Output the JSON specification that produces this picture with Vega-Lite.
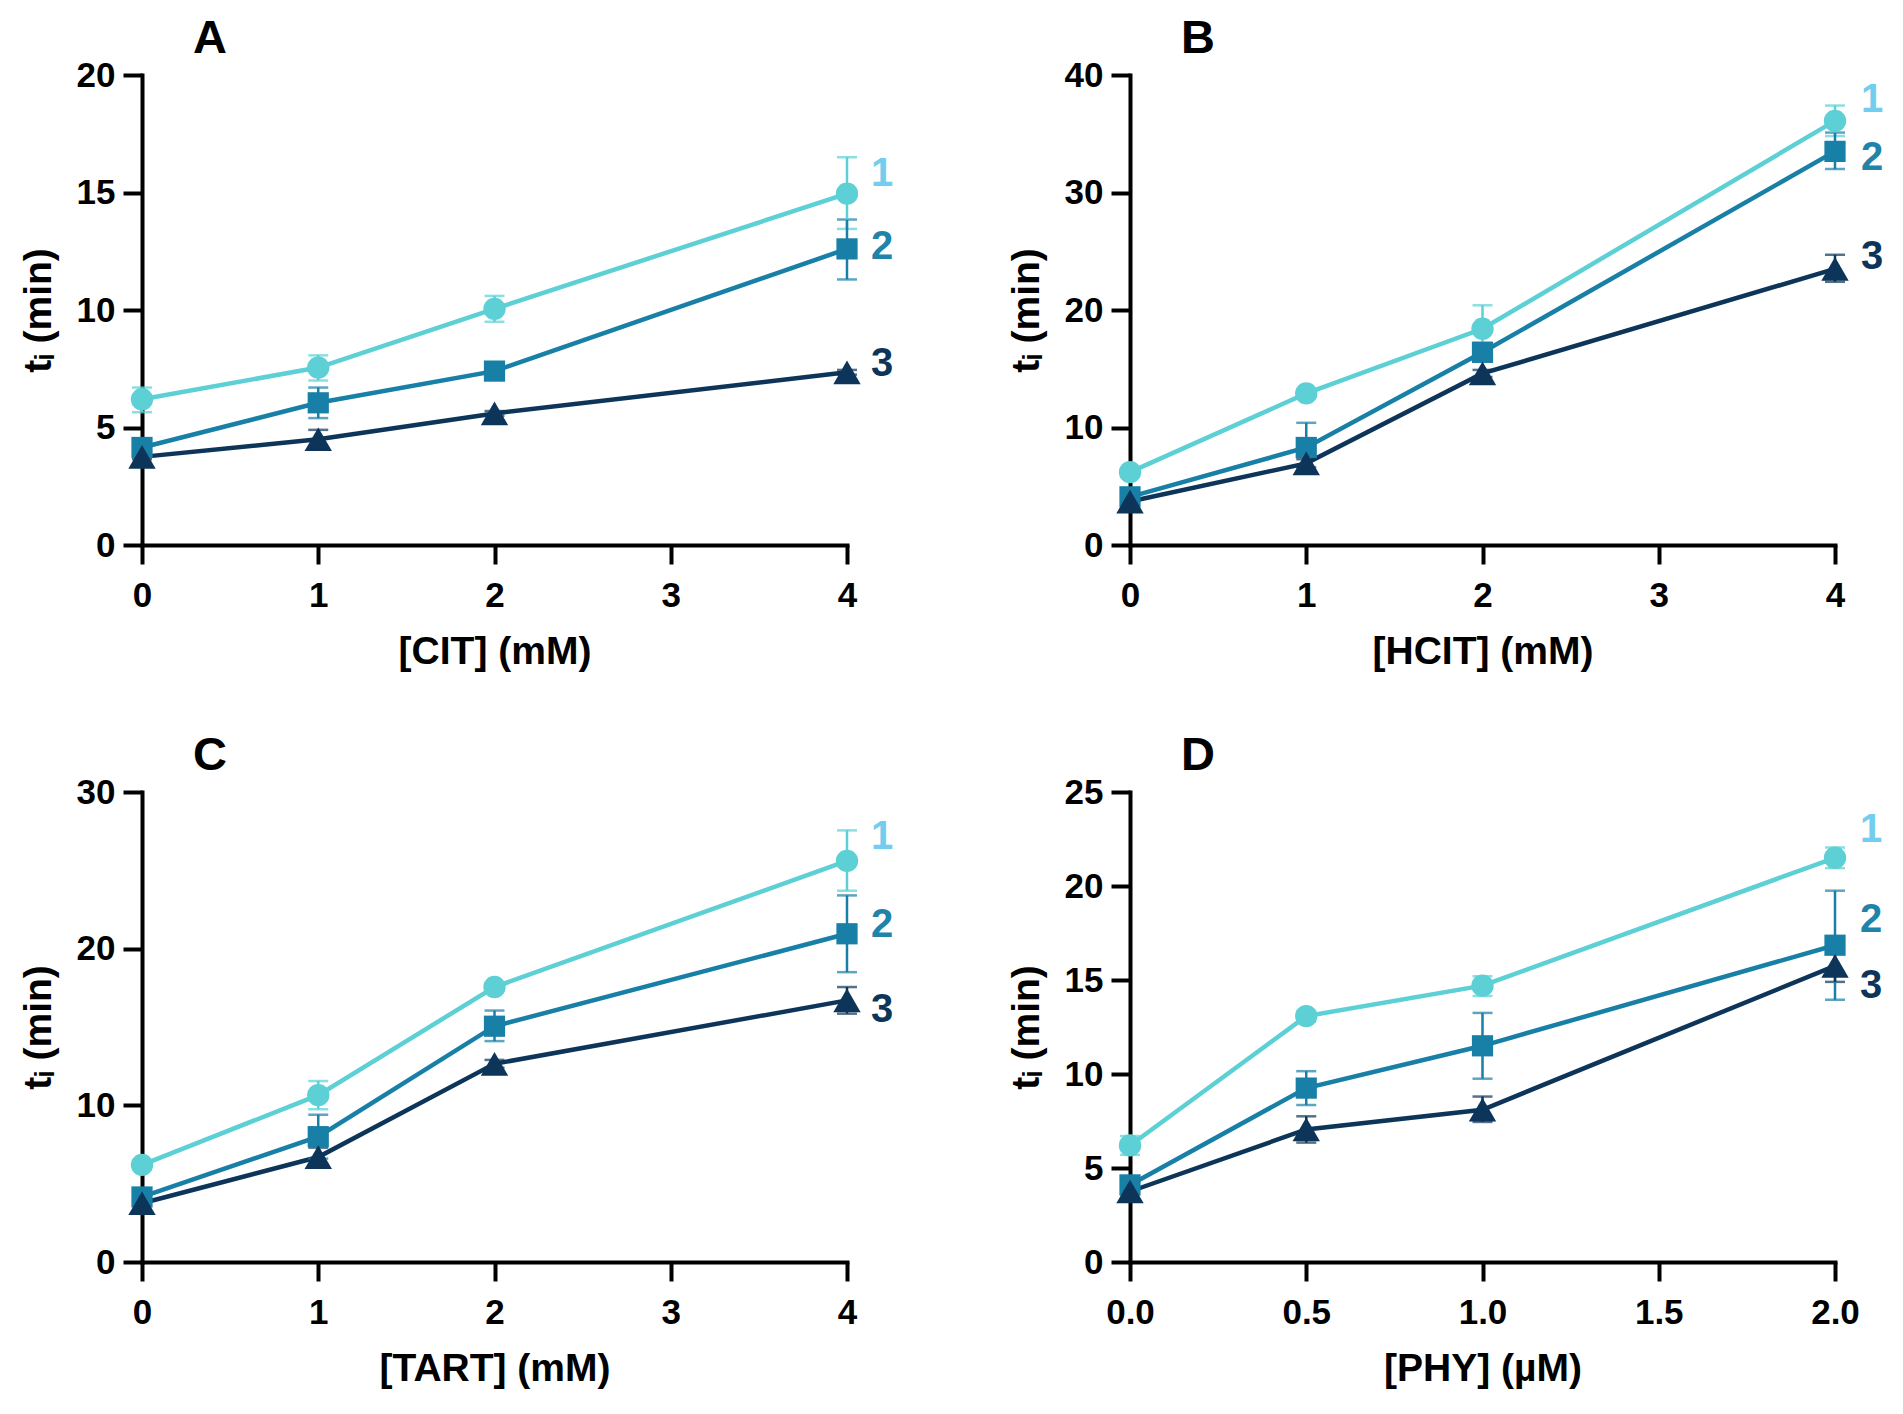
{
  "$schema": "https://vega.github.io/schema/vega-lite/v6.json",
  "background": "white",
  "padding": {"left": 19, "top": 15, "right": 5, "bottom": 5},
  "datasets": {
    "pts": [
      {"panel": "A", "s": "1", "x": 0, "y": 6.2, "lo": 5.65, "hi": 6.7},
      {"panel": "A", "s": "1", "x": 1, "y": 7.55, "lo": 7.0, "hi": 8.07},
      {"panel": "A", "s": "1", "x": 2, "y": 10.05, "lo": 9.5, "hi": 10.6},
      {"panel": "A", "s": "1", "x": 4, "y": 14.95, "lo": 13.45, "hi": 16.5},
      {"panel": "A", "s": "2", "x": 0, "y": 4.15, "lo": 4.0, "hi": 4.3},
      {"panel": "A", "s": "2", "x": 1, "y": 6.05, "lo": 5.4, "hi": 6.7},
      {"panel": "A", "s": "2", "x": 2, "y": 7.4, "lo": 7.25, "hi": 7.55},
      {"panel": "A", "s": "2", "x": 4, "y": 12.6, "lo": 11.3, "hi": 13.85},
      {"panel": "A", "s": "3", "x": 0, "y": 3.75, "lo": 3.65, "hi": 3.85},
      {"panel": "A", "s": "3", "x": 1, "y": 4.5, "lo": 4.1, "hi": 4.9},
      {"panel": "A", "s": "3", "x": 2, "y": 5.6, "lo": 5.5, "hi": 5.7},
      {"panel": "A", "s": "3", "x": 4, "y": 7.35, "lo": 7.25, "hi": 7.45},
      {"panel": "B", "s": "1", "x": 0, "y": 6.2, "lo": 5.9, "hi": 6.5},
      {"panel": "B", "s": "1", "x": 1, "y": 12.9, "lo": 12.6, "hi": 13.2},
      {"panel": "B", "s": "1", "x": 2, "y": 18.4, "lo": 16.4, "hi": 20.4},
      {"panel": "B", "s": "1", "x": 4, "y": 36.1, "lo": 34.8, "hi": 37.4},
      {"panel": "B", "s": "2", "x": 0, "y": 4.1, "lo": 3.9, "hi": 4.3},
      {"panel": "B", "s": "2", "x": 1, "y": 8.3, "lo": 6.2, "hi": 10.4},
      {"panel": "B", "s": "2", "x": 2, "y": 16.4, "lo": 15.6, "hi": 17.2},
      {"panel": "B", "s": "2", "x": 4, "y": 33.5, "lo": 32.0, "hi": 35.1},
      {"panel": "B", "s": "3", "x": 0, "y": 3.7, "lo": 3.5, "hi": 3.9},
      {"panel": "B", "s": "3", "x": 1, "y": 6.95, "lo": 6.6, "hi": 7.3},
      {"panel": "B", "s": "3", "x": 2, "y": 14.6, "lo": 14.3, "hi": 14.9},
      {"panel": "B", "s": "3", "x": 4, "y": 23.5, "lo": 22.4, "hi": 24.7},
      {"panel": "C", "s": "1", "x": 0, "y": 6.2, "lo": 5.9, "hi": 6.5},
      {"panel": "C", "s": "1", "x": 1, "y": 10.65, "lo": 9.75, "hi": 11.55},
      {"panel": "C", "s": "1", "x": 2, "y": 17.55, "lo": 17.3, "hi": 17.8},
      {"panel": "C", "s": "1", "x": 4, "y": 25.6, "lo": 23.7, "hi": 27.55},
      {"panel": "C", "s": "2", "x": 0, "y": 4.15, "lo": 4.0, "hi": 4.3},
      {"panel": "C", "s": "2", "x": 1, "y": 8.0, "lo": 6.6, "hi": 9.4},
      {"panel": "C", "s": "2", "x": 2, "y": 15.05, "lo": 14.1, "hi": 16.05},
      {"panel": "C", "s": "2", "x": 4, "y": 20.95, "lo": 18.5, "hi": 23.4},
      {"panel": "C", "s": "3", "x": 0, "y": 3.75, "lo": 3.6, "hi": 3.9},
      {"panel": "C", "s": "3", "x": 1, "y": 6.7, "lo": 6.1, "hi": 7.3},
      {"panel": "C", "s": "3", "x": 2, "y": 12.65, "lo": 12.4, "hi": 12.9},
      {"panel": "C", "s": "3", "x": 4, "y": 16.7, "lo": 15.85, "hi": 17.55},
      {"panel": "D", "s": "1", "x": 0, "y": 6.2, "lo": 5.7, "hi": 6.7},
      {"panel": "D", "s": "1", "x": 0.5, "y": 13.08, "lo": 12.8, "hi": 13.35},
      {"panel": "D", "s": "1", "x": 1, "y": 14.7, "lo": 14.15, "hi": 15.2},
      {"panel": "D", "s": "1", "x": 2, "y": 21.5, "lo": 20.95, "hi": 22.05},
      {"panel": "D", "s": "2", "x": 0, "y": 4.1, "lo": 3.85, "hi": 4.35},
      {"panel": "D", "s": "2", "x": 0.5, "y": 9.25, "lo": 8.35, "hi": 10.15},
      {"panel": "D", "s": "2", "x": 1, "y": 11.5, "lo": 9.75, "hi": 13.25},
      {"panel": "D", "s": "2", "x": 2, "y": 16.85, "lo": 13.95, "hi": 19.75},
      {"panel": "D", "s": "3", "x": 0, "y": 3.75, "lo": 3.6, "hi": 3.9},
      {"panel": "D", "s": "3", "x": 0.5, "y": 7.05, "lo": 6.35, "hi": 7.75},
      {"panel": "D", "s": "3", "x": 1, "y": 8.1, "lo": 7.45, "hi": 8.8},
      {"panel": "D", "s": "3", "x": 2, "y": 15.75, "lo": 14.9, "hi": 16.6}
    ],
    "lab": [
      {"panel": "A", "s": "1", "x": 4, "y": 15.8},
      {"panel": "A", "s": "2", "x": 4, "y": 12.7},
      {"panel": "A", "s": "3", "x": 4, "y": 7.7},
      {"panel": "B", "s": "1", "x": 4, "y": 37.9},
      {"panel": "B", "s": "2", "x": 4, "y": 32.9},
      {"panel": "B", "s": "3", "x": 4, "y": 24.5},
      {"panel": "C", "s": "1", "x": 4, "y": 27.1},
      {"panel": "C", "s": "2", "x": 4, "y": 21.5},
      {"panel": "C", "s": "3", "x": 4, "y": 16.1},
      {"panel": "D", "s": "1", "x": 2, "y": 23.0},
      {"panel": "D", "s": "2", "x": 2, "y": 18.2},
      {"panel": "D", "s": "3", "x": 2, "y": 14.7}
    ]
  },
  "columns": 2,
  "spacing": {"row": 247, "column": 283},
  "bounds": "flush",
  "concat": [
    {
      "width": 705,
      "height": 470,
      "title": {"text": "A"},
      "resolve": {"scale": {"color": "independent"}},
      "encoding": {
        "x": {"field": "x", "type": "quantitative", "scale": {"domain": [0, 4], "nice": false}, "axis": {"values": [0, 1, 2, 3, 4], "title": "[CIT] (mM)"}},
        "y": {"field": "y", "type": "quantitative", "scale": {"domain": [0, 20], "nice": false}, "axis": {"values": [0, 5, 10, 15, 20], "title": "tᵢ (min)"}}
      },
      "layer": [
        {
          "data": {"name": "pts"},
          "transform": [{"filter": "datum.panel == 'A'"}],
          "mark": {"type": "line", "strokeWidth": 4.5},
          "encoding": {
            "color": {"field": "s", "type": "nominal", "scale": {"domain": ["1", "2", "3"], "range": ["#5DD0D6", "#187FA6", "#0D3559"]}, "legend": null}
          }
        },
        {
          "data": {"name": "pts"},
          "transform": [{"filter": "datum.panel == 'A'"}],
          "mark": {"type": "errorbar", "ticks": {"size": 20, "thickness": 2.5}, "rule": {"strokeWidth": 2.5}},
          "encoding": {
            "y": {"field": "lo", "type": "quantitative", "axis": {"values": [0, 5, 10, 15, 20], "title": "tᵢ (min)"}},
            "y2": {"field": "hi"},
            "color": {"field": "s", "type": "nominal", "scale": {"domain": ["1", "2", "3"], "range": ["#5DD0D6", "#187FA6", "#0D3559"]}, "legend": null}
          }
        },
        {
          "data": {"name": "pts"},
          "transform": [{"filter": "datum.panel == 'A'"}],
          "mark": {"type": "point", "filled": true, "opacity": 1},
          "encoding": {
            "shape": {"field": "s", "type": "nominal", "scale": {"domain": ["1", "2", "3"], "range": ["circle", "square", "triangle-up"]}, "legend": null},
            "size": {"field": "s", "type": "nominal", "scale": {"type": "ordinal", "domain": ["1", "2", "3"], "range": [500, 450, 750]}, "legend": null},
            "color": {"field": "s", "type": "nominal", "scale": {"domain": ["1", "2", "3"], "range": ["#5DD0D6", "#187FA6", "#0D3559"]}, "legend": null}
          }
        },
        {
          "data": {"name": "lab"},
          "transform": [{"filter": "datum.panel == 'A'"}],
          "mark": {"type": "text", "dx": 35, "align": "center", "baseline": "middle", "fontSize": 40, "fontWeight": "bold"},
          "encoding": {
            "text": {"field": "s"},
            "color": {"field": "s", "type": "nominal", "scale": {"domain": ["1", "2", "3"], "range": ["#72CDEE", "#1F83AA", "#0D3559"]}, "legend": null}
          }
        }
      ]
    },
    {
      "width": 705,
      "height": 470,
      "title": {"text": "B"},
      "resolve": {"scale": {"color": "independent"}},
      "encoding": {
        "x": {"field": "x", "type": "quantitative", "scale": {"domain": [0, 4], "nice": false}, "axis": {"values": [0, 1, 2, 3, 4], "title": "[HCIT] (mM)"}},
        "y": {"field": "y", "type": "quantitative", "scale": {"domain": [0, 40], "nice": false}, "axis": {"values": [0, 10, 20, 30, 40], "title": "tᵢ (min)"}}
      },
      "layer": [
        {
          "data": {"name": "pts"},
          "transform": [{"filter": "datum.panel == 'B'"}],
          "mark": {"type": "line", "strokeWidth": 4.5},
          "encoding": {
            "color": {"field": "s", "type": "nominal", "scale": {"domain": ["1", "2", "3"], "range": ["#5DD0D6", "#187FA6", "#0D3559"]}, "legend": null}
          }
        },
        {
          "data": {"name": "pts"},
          "transform": [{"filter": "datum.panel == 'B'"}],
          "mark": {"type": "errorbar", "ticks": {"size": 20, "thickness": 2.5}, "rule": {"strokeWidth": 2.5}},
          "encoding": {
            "y": {"field": "lo", "type": "quantitative", "axis": {"values": [0, 10, 20, 30, 40], "title": "tᵢ (min)"}},
            "y2": {"field": "hi"},
            "color": {"field": "s", "type": "nominal", "scale": {"domain": ["1", "2", "3"], "range": ["#5DD0D6", "#187FA6", "#0D3559"]}, "legend": null}
          }
        },
        {
          "data": {"name": "pts"},
          "transform": [{"filter": "datum.panel == 'B'"}],
          "mark": {"type": "point", "filled": true, "opacity": 1},
          "encoding": {
            "shape": {"field": "s", "type": "nominal", "scale": {"domain": ["1", "2", "3"], "range": ["circle", "square", "triangle-up"]}, "legend": null},
            "size": {"field": "s", "type": "nominal", "scale": {"type": "ordinal", "domain": ["1", "2", "3"], "range": [500, 450, 750]}, "legend": null},
            "color": {"field": "s", "type": "nominal", "scale": {"domain": ["1", "2", "3"], "range": ["#5DD0D6", "#187FA6", "#0D3559"]}, "legend": null}
          }
        },
        {
          "data": {"name": "lab"},
          "transform": [{"filter": "datum.panel == 'B'"}],
          "mark": {"type": "text", "dx": 37, "align": "center", "baseline": "middle", "fontSize": 40, "fontWeight": "bold"},
          "encoding": {
            "text": {"field": "s"},
            "color": {"field": "s", "type": "nominal", "scale": {"domain": ["1", "2", "3"], "range": ["#72CDEE", "#1F83AA", "#0D3559"]}, "legend": null}
          }
        }
      ]
    },
    {
      "width": 705,
      "height": 470,
      "title": {"text": "C"},
      "resolve": {"scale": {"color": "independent"}},
      "encoding": {
        "x": {"field": "x", "type": "quantitative", "scale": {"domain": [0, 4], "nice": false}, "axis": {"values": [0, 1, 2, 3, 4], "title": "[TART] (mM)"}},
        "y": {"field": "y", "type": "quantitative", "scale": {"domain": [0, 30], "nice": false}, "axis": {"values": [0, 10, 20, 30], "title": "tᵢ (min)"}}
      },
      "layer": [
        {
          "data": {"name": "pts"},
          "transform": [{"filter": "datum.panel == 'C'"}],
          "mark": {"type": "line", "strokeWidth": 4.5},
          "encoding": {
            "color": {"field": "s", "type": "nominal", "scale": {"domain": ["1", "2", "3"], "range": ["#5DD0D6", "#187FA6", "#0D3559"]}, "legend": null}
          }
        },
        {
          "data": {"name": "pts"},
          "transform": [{"filter": "datum.panel == 'C'"}],
          "mark": {"type": "errorbar", "ticks": {"size": 20, "thickness": 2.5}, "rule": {"strokeWidth": 2.5}},
          "encoding": {
            "y": {"field": "lo", "type": "quantitative", "axis": {"values": [0, 10, 20, 30], "title": "tᵢ (min)"}},
            "y2": {"field": "hi"},
            "color": {"field": "s", "type": "nominal", "scale": {"domain": ["1", "2", "3"], "range": ["#5DD0D6", "#187FA6", "#0D3559"]}, "legend": null}
          }
        },
        {
          "data": {"name": "pts"},
          "transform": [{"filter": "datum.panel == 'C'"}],
          "mark": {"type": "point", "filled": true, "opacity": 1},
          "encoding": {
            "shape": {"field": "s", "type": "nominal", "scale": {"domain": ["1", "2", "3"], "range": ["circle", "square", "triangle-up"]}, "legend": null},
            "size": {"field": "s", "type": "nominal", "scale": {"type": "ordinal", "domain": ["1", "2", "3"], "range": [500, 450, 750]}, "legend": null},
            "color": {"field": "s", "type": "nominal", "scale": {"domain": ["1", "2", "3"], "range": ["#5DD0D6", "#187FA6", "#0D3559"]}, "legend": null}
          }
        },
        {
          "data": {"name": "lab"},
          "transform": [{"filter": "datum.panel == 'C'"}],
          "mark": {"type": "text", "dx": 35, "align": "center", "baseline": "middle", "fontSize": 40, "fontWeight": "bold"},
          "encoding": {
            "text": {"field": "s"},
            "color": {"field": "s", "type": "nominal", "scale": {"domain": ["1", "2", "3"], "range": ["#72CDEE", "#1F83AA", "#0D3559"]}, "legend": null}
          }
        }
      ]
    },
    {
      "width": 705,
      "height": 470,
      "title": {"text": "D"},
      "resolve": {"scale": {"color": "independent"}},
      "encoding": {
        "x": {"field": "x", "type": "quantitative", "scale": {"domain": [0, 2], "nice": false}, "axis": {"values": [0, 0.5, 1, 1.5, 2], "format": ".1f", "title": "[PHY] (µM)"}},
        "y": {"field": "y", "type": "quantitative", "scale": {"domain": [0, 25], "nice": false}, "axis": {"values": [0, 5, 10, 15, 20, 25], "title": "tᵢ (min)"}}
      },
      "layer": [
        {
          "data": {"name": "pts"},
          "transform": [{"filter": "datum.panel == 'D'"}],
          "mark": {"type": "line", "strokeWidth": 4.5},
          "encoding": {
            "color": {"field": "s", "type": "nominal", "scale": {"domain": ["1", "2", "3"], "range": ["#5DD0D6", "#187FA6", "#0D3559"]}, "legend": null}
          }
        },
        {
          "data": {"name": "pts"},
          "transform": [{"filter": "datum.panel == 'D'"}],
          "mark": {"type": "errorbar", "ticks": {"size": 20, "thickness": 2.5}, "rule": {"strokeWidth": 2.5}},
          "encoding": {
            "y": {"field": "lo", "type": "quantitative", "axis": {"values": [0, 5, 10, 15, 20, 25], "title": "tᵢ (min)"}},
            "y2": {"field": "hi"},
            "color": {"field": "s", "type": "nominal", "scale": {"domain": ["1", "2", "3"], "range": ["#5DD0D6", "#187FA6", "#0D3559"]}, "legend": null}
          }
        },
        {
          "data": {"name": "pts"},
          "transform": [{"filter": "datum.panel == 'D'"}],
          "mark": {"type": "point", "filled": true, "opacity": 1},
          "encoding": {
            "shape": {"field": "s", "type": "nominal", "scale": {"domain": ["1", "2", "3"], "range": ["circle", "square", "triangle-up"]}, "legend": null},
            "size": {"field": "s", "type": "nominal", "scale": {"type": "ordinal", "domain": ["1", "2", "3"], "range": [500, 450, 750]}, "legend": null},
            "color": {"field": "s", "type": "nominal", "scale": {"domain": ["1", "2", "3"], "range": ["#5DD0D6", "#187FA6", "#0D3559"]}, "legend": null}
          }
        },
        {
          "data": {"name": "lab"},
          "transform": [{"filter": "datum.panel == 'D'"}],
          "mark": {"type": "text", "dx": 36, "align": "center", "baseline": "middle", "fontSize": 40, "fontWeight": "bold"},
          "encoding": {
            "text": {"field": "s"},
            "color": {"field": "s", "type": "nominal", "scale": {"domain": ["1", "2", "3"], "range": ["#72CDEE", "#1F83AA", "#0D3559"]}, "legend": null}
          }
        }
      ]
    }
  ],
  "config": {
    "font": "Liberation Sans",
    "view": {"stroke": null},
    "axis": {
      "grid": false,
      "labelFlush": false,
      "domainColor": "black",
      "domainWidth": 4,
      "domainCap": "square",
      "tickColor": "black",
      "tickWidth": 4,
      "tickSize": 19,
      "labelFont": "Liberation Sans",
      "labelFontSize": 35,
      "labelFontWeight": "bold",
      "labelColor": "black",
      "titleFont": "Liberation Sans",
      "titleFontSize": 39,
      "titleFontWeight": "bold",
      "titleColor": "black"
    },
    "axisY": {"labelPadding": 8, "titlePadding": 19, "minExtent": 65, "maxExtent": 65},
    "axisX": {"labelPadding": 14, "titlePadding": 19},
    "title": {
      "anchor": "start",
      "frame": "group",
      "dx": 51,
      "offset": -5,
      "baseline": "alphabetic",
      "font": "Liberation Sans",
      "fontSize": 47,
      "fontWeight": "bold",
      "color": "black"
    }
  }
}
